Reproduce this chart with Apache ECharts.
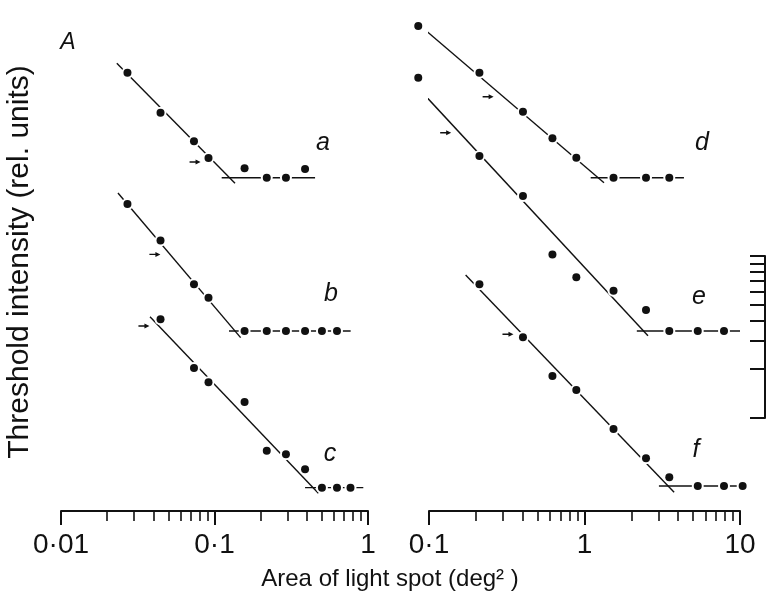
<!DOCTYPE html>
<html><head><meta charset="utf-8">
<script src="https://cdn.jsdelivr.net/npm/echarts@6/dist/echarts.min.js"></script>
<style>html,body{margin:0;padding:0;background:#fff}#c{width:768px;height:604px}</style>
</head><body><div id="c"></div>
<script>
// ---- data: x = area of light spot (deg^2), y = log threshold intensity (rel. log units)
const aX = [0.0271, 0.0445, 0.0735, 0.0914, 0.157, 0.219, 0.292, 0.389];
const aY = [2.131, 1.885, 1.708, 1.605, 1.541, 1.483, 1.483, 1.537];
const bX = [0.0271, 0.0445, 0.0735, 0.0914, 0.157, 0.219, 0.292, 0.389, 0.501, 0.628];
const bY = [1.321, 1.096, 0.825, 0.743, 0.537, 0.537, 0.537, 0.537, 0.537, 0.537];
const cX = [0.0445, 0.0735, 0.0914, 0.157, 0.219, 0.292, 0.389, 0.501, 0.628, 0.769];
const cY = [0.609, 0.309, 0.220, 0.099, -0.202, -0.224, -0.317, -0.430, -0.430, -0.430];
const dX = [0.0853, 0.211, 0.402, 0.622, 0.886, 1.537, 2.486, 3.51];
const dY = [2.420, 2.131, 1.891, 1.727, 1.607, 1.483, 1.483, 1.483];
const eX = [0.0853, 0.211, 0.402, 0.622, 0.886, 1.537, 2.486, 3.51, 5.35, 7.89];
const eY = [2.101, 1.617, 1.370, 1.010, 0.869, 0.786, 0.667, 0.537, 0.537, 0.537];
const fX = [0.211, 0.402, 0.622, 0.886, 1.537, 2.486, 3.51, 5.35, 7.89, 10.4];
const fY = [0.825, 0.498, 0.259, 0.173, -0.068, -0.249, -0.366, -0.420, -0.420, -0.420];

// fitted lines: sloped part and plateau, [area, logI] end points
const aSlope = [[0.0231, 2.190], [0.136, 1.449]];
const aFlat  = [[0.1114, 1.483], [0.452, 1.483]];
const bSlope = [[0.0235, 1.389], [0.148, 0.496]];
const bFlat  = [[0.1243, 0.537], [0.771, 0.537]];
const cSlope = [[0.0380, 0.625], [0.475, -0.465]];
const cFlat  = [[0.389, -0.430], [0.932, -0.430]];
const dSlope = [[0.0708, 2.498], [1.335, 1.452]];
const dFlat  = [[1.096, 1.483], [4.36, 1.483]];
const eSlope = [[0.0691, 2.131], [2.56, 0.508]];
const eFlat  = [[2.17, 0.537], [10.0, 0.537]];
const fSlope = [[0.172, 0.883], [3.77, -0.459]];
const fFlat  = [[3.01, -0.420], [12.4, -0.420]];

// small arrows
const arrowsLeft  = [[0.0747, 1.580], [0.0409, 1.010], [0.0347, 0.568]];
const arrowsRight = [[0.240, 1.983], [0.128, 1.761], [0.322, 0.517]];

// axes
const ticksL = [0.01, 0.1, 1];
const labelsL = ['0·01', '0·1', '1'];
const ticksR = [0.1, 1, 10];
const labelsR = ['0·1', '1', '10'];
const minorMult = [2, 3, 4, 5, 6, 7, 8, 9];
const barTicks = [1, 2, 3, 4, 5, 6, 7, 8, 9, 10];
const curveNames = ['a', 'b', 'c', 'd', 'e', 'f'];

const INK = '#111';
const FONT = '"Liberation Sans", Arial, sans-serif';
const lg = v => Math.log10(v);
const pts = (xs, ys) => xs.map((x, i) => [lg(x), ys[i]]);
const seg = s => s.map(p => [lg(p[0]), p[1]]);
const minors = t => { const out = []; for (let i = 0; i < t.length - 1; i++) minorMult.forEach(m => out.push(lg(t[i] * m))); return out; };
const fmt = (ticks, labels) => v => { for (let i = 0; i < ticks.length; i++) if (Math.abs(lg(ticks[i]) - v) < 1e-6) return labels[i]; return ''; };

const YMIN = -0.5741, YMAX = 2.5;
const gridsGeom = [{left: 61, top: 13, width: 307, height: 498}, {left: 429, top: 13, width: 311, height: 498}];

const grid = [gridsGeom[0], gridsGeom[1], Object.assign({}, gridsGeom[0]), Object.assign({}, gridsGeom[1]),
  {left: 765, top: 256, width: 2, height: 162}];

function majorAxis(gi, ticks, labels, mn, mx) {
  return {gridIndex: gi, type: 'value', min: mn, max: mx, position: 'bottom',
    axisLine: {show: true, onZero: false, lineStyle: {color: INK, width: 2}},
    axisTick: {show: true, customValues: ticks.map(lg), length: 14, lineStyle: {color: INK, width: 2}},
    axisLabel: {show: true, customValues: ticks.map(lg), formatter: fmt(ticks, labels), fontSize: 28,
      fontFamily: FONT, color: INK, margin: 20},
    splitLine: {show: false}};
}
function minorAxis(gi, ticks, mn, mx) {
  return {gridIndex: gi, type: 'value', min: mn, max: mx, position: 'bottom',
    axisLine: {show: false, onZero: false},
    axisTick: {show: true, customValues: minors(ticks), length: 10, lineStyle: {color: INK, width: 1.6}},
    axisLabel: {show: false}, splitLine: {show: false}};
}
const hiddenY = gi => ({gridIndex: gi, type: 'value', min: YMIN, max: YMAX, show: false, splitLine: {show: false}});

const xAxis = [majorAxis(0, ticksL, labelsL, -2, 0), majorAxis(1, ticksR, labelsR, -1, 1),
  minorAxis(2, ticksL, -2, 0), minorAxis(3, ticksR, -1, 1),
  {gridIndex: 4, type: 'value', min: 0, max: 1, show: false}];
const yAxis = [hiddenY(0), hiddenY(1), hiddenY(2), hiddenY(3),
  {gridIndex: 4, type: 'value', min: 0, max: 1, position: 'left',
    axisLine: {show: true, lineStyle: {color: INK, width: 2}},
    axisTick: {show: true, inside: false, customValues: barTicks.map(lg), length: 15, lineStyle: {color: INK, width: 2}},
    axisLabel: {show: false}, splitLine: {show: false}}];

const series = [];
function addLine(gi, s) {
  series.push({type: 'line', xAxisIndex: gi, yAxisIndex: gi, data: seg(s), symbol: 'none', clip: false,
    lineStyle: {color: INK, width: 1.4}, z: 2, silent: true, animation: false});
}
function addPoints(gi, data) {
  series.push({type: 'scatter', xAxisIndex: gi, yAxisIndex: gi, data, symbolSize: 12, clip: false,
    itemStyle: {color: '#fff', opacity: 1}, z: 3, silent: true, animation: false});
  series.push({type: 'scatter', xAxisIndex: gi, yAxisIndex: gi, data, symbolSize: 8, clip: false,
    itemStyle: {color: INK, opacity: 1}, z: 4, silent: true, animation: false});
}
function addArrows(gi, arr) {
  series.push({type: 'scatter', xAxisIndex: gi, yAxisIndex: gi, data: seg(arr), clip: false,
    symbol: 'path://M0,2.2 L6,2.2 L6,0 L11,3 L6,6 L6,3.8 L0,3.8 Z', symbolSize: [11, 5],
    itemStyle: {color: INK, opacity: 1}, z: 4, silent: true, animation: false});
}
[aSlope, aFlat, bSlope, bFlat, cSlope, cFlat].forEach(s => addLine(0, s));
[dSlope, dFlat, eSlope, eFlat, fSlope, fFlat].forEach(s => addLine(1, s));
addPoints(0, [].concat(pts(aX, aY), pts(bX, bY), pts(cX, cY)));
addPoints(1, [].concat(pts(dX, dY), pts(eX, eY), pts(fX, fY)));
addArrows(0, arrowsLeft);
addArrows(1, arrowsRight);

const letterPos = [[323, 143], [331, 294], [330, 454], [702, 143], [699, 297], [696, 450]];
const txt = (x, y, text, font, extra) => Object.assign({type: 'text', x, y, silent: true,
  style: {text, font, fill: INK, align: 'center', verticalAlign: 'middle', textAlign: 'center', textVerticalAlign: 'middle'}}, extra || {});
const graphic = curveNames.map((n, i) => txt(letterPos[i][0], letterPos[i][1], n, 'italic 25px ' + FONT));
graphic.push(txt(68, 43, 'A', 'italic 23px ' + FONT));
graphic.push(txt(390, 579, 'Area of light spot (deg² )', '24px ' + FONT));
graphic.push(txt(20, 262, 'Threshold intensity (rel. units)', '30px ' + FONT, {rotation: Math.PI / 2}));

const chart = echarts.init(document.getElementById('c'), null, {renderer: 'canvas'});
chart.setOption({backgroundColor: '#fff', animation: false, grid, xAxis, yAxis, series, graphic});
</script></body></html>
